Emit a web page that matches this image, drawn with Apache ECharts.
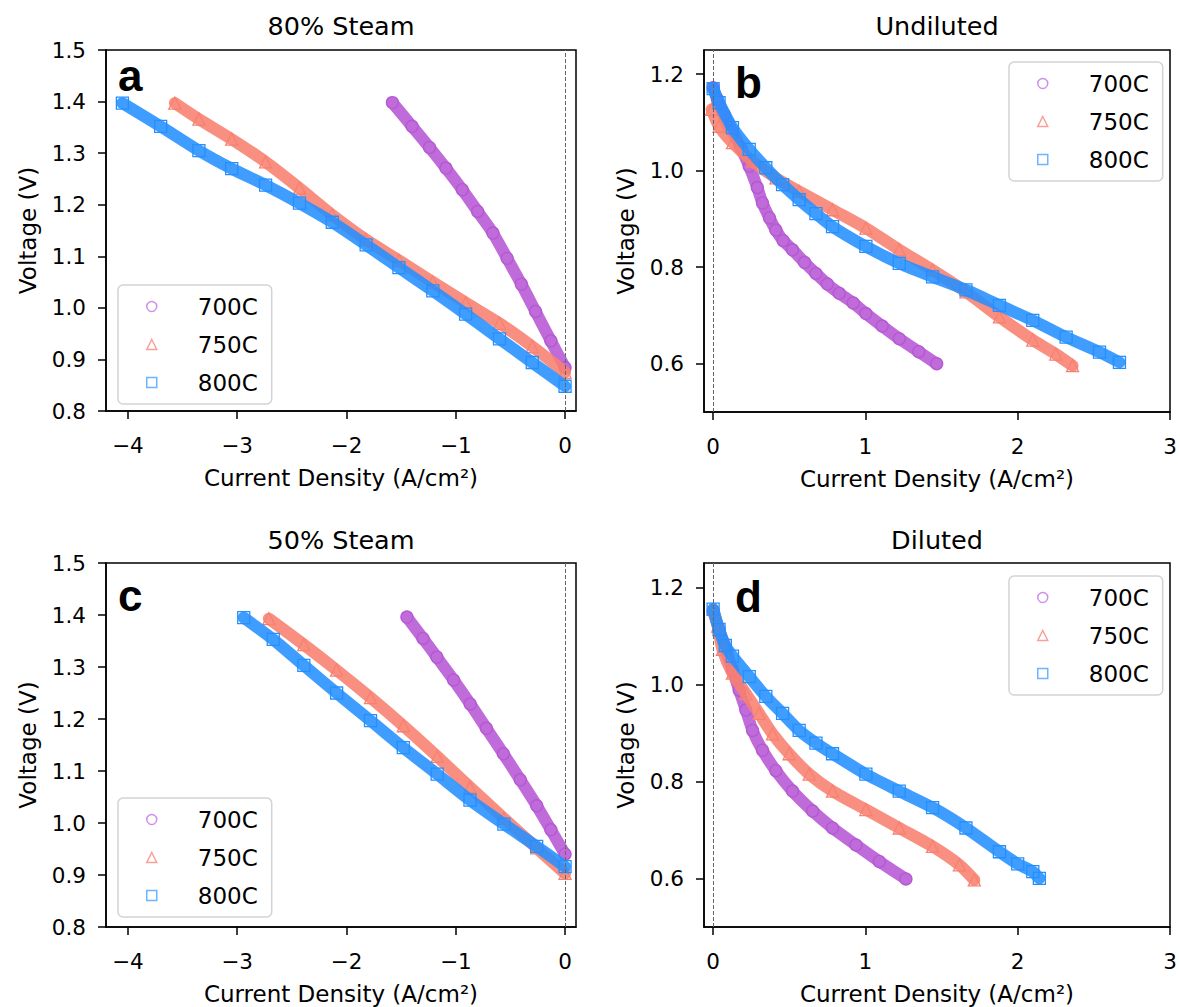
<!DOCTYPE html>
<html>
<head>
<meta charset="utf-8">
<title>Current density vs voltage</title>
<script src="https://cdn.jsdelivr.net/npm/echarts@6/dist/echarts.min.js"></script>
<style>
  html, body { margin: 0; padding: 0; background: #fff; }
  #chart { width: 1180px; height: 1007px; }
</style>
</head>
<body>
<div id="chart"></div>
<script>
// values: current density (A/cm2) and voltage (V)
const temps = ['700C', '750C', '800C'];
const titles = ['80% Steam', 'Undiluted', '50% Steam', 'Diluted'];
const letters = ['a', 'b', 'c', 'd'];

// a: 80% steam
const a700x = [-1.58, -1.40, -1.24, -1.09, -0.94, -0.80, -0.66, -0.53, -0.40, -0.27, -0.13, 0.0];
const a700v = [1.398, 1.352, 1.311, 1.271, 1.229, 1.187, 1.145, 1.096, 1.046, 0.993, 0.936, 0.884];
const a750x = [-3.57, -3.35, -3.05, -2.74, -2.43, -2.13, -1.82, -1.52, -1.21, -0.91, -0.60, -0.30, 0.0];
const a750v = [1.397, 1.366, 1.327, 1.283, 1.232, 1.180, 1.132, 1.092, 1.050, 1.010, 0.970, 0.925, 0.875];
const a800x = [-4.05, -3.70, -3.35, -3.05, -2.74, -2.43, -2.13, -1.82, -1.52, -1.21, -0.91, -0.60, -0.30, 0.0];
const a800v = [1.397, 1.352, 1.305, 1.270, 1.238, 1.203, 1.166, 1.122, 1.078, 1.033, 0.988, 0.940, 0.894, 0.848];

// b: undiluted
const b700x = [0.0, 0.028, 0.072, 0.127, 0.182, 0.237, 0.29, 0.324, 0.37, 0.412, 0.46, 0.521, 0.60, 0.675, 0.75, 0.828, 0.92, 1.003, 1.11, 1.222, 1.35, 1.468];
const b700v = [1.172, 1.148, 1.117, 1.082, 1.047, 1.009, 0.965, 0.933, 0.902, 0.877, 0.855, 0.836, 0.810, 0.787, 0.765, 0.746, 0.726, 0.704, 0.678, 0.652, 0.625, 0.600];
const b750x = [-0.01, 0.039, 0.127, 0.258, 0.412, 0.565, 0.784, 1.003, 1.222, 1.441, 1.66, 1.88, 2.099, 2.25, 2.36];
const b750v = [1.127, 1.092, 1.058, 1.020, 0.985, 0.957, 0.919, 0.881, 0.836, 0.794, 0.749, 0.697, 0.649, 0.620, 0.596];
const b800x = [0.0, 0.039, 0.127, 0.237, 0.346, 0.456, 0.565, 0.675, 0.784, 1.003, 1.222, 1.441, 1.66, 1.88, 2.099, 2.318, 2.537, 2.668];
const b800v = [1.170, 1.141, 1.089, 1.044, 1.006, 0.971, 0.940, 0.911, 0.884, 0.843, 0.808, 0.780, 0.753, 0.721, 0.690, 0.655, 0.624, 0.603];

// c: 50% steam
const c700x = [-1.447, -1.30, -1.173, -1.02, -0.868, -0.72, -0.564, -0.41, -0.259, -0.13, 0.0];
const c700v = [1.396, 1.355, 1.319, 1.275, 1.229, 1.182, 1.133, 1.083, 1.033, 0.987, 0.940];
const c750x = [-2.71, -2.39, -2.09, -1.78, -1.48, -1.17, -0.87, -0.56, -0.26, 0.0];
const c750v = [1.393, 1.343, 1.294, 1.241, 1.187, 1.128, 1.069, 1.009, 0.952, 0.903];
const c800x = [-2.94, -2.67, -2.39, -2.09, -1.78, -1.48, -1.17, -0.87, -0.56, -0.26, 0.0];
const c800v = [1.395, 1.353, 1.303, 1.250, 1.197, 1.145, 1.094, 1.044, 0.998, 0.955, 0.916];

// d: diluted
const d700x = [0.0, 0.039, 0.083, 0.127, 0.171, 0.215, 0.259, 0.324, 0.412, 0.521, 0.653, 0.784, 0.938, 1.091, 1.266];
const d700v = [1.151, 1.113, 1.072, 1.030, 0.988, 0.947, 0.905, 0.864, 0.822, 0.780, 0.739, 0.704, 0.669, 0.635, 0.599];
const d750x = [0.0, 0.03, 0.061, 0.127, 0.215, 0.302, 0.39, 0.499, 0.631, 0.784, 1.003, 1.222, 1.441, 1.617, 1.715];
const d750v = [1.155, 1.120, 1.072, 1.023, 0.981, 0.940, 0.898, 0.857, 0.815, 0.780, 0.742, 0.704, 0.666, 0.628, 0.597];
const d800x = [0.0, 0.039, 0.08, 0.127, 0.237, 0.346, 0.456, 0.565, 0.675, 0.784, 1.003, 1.222, 1.441, 1.66, 1.88, 2.0, 2.099, 2.142];
const d800v = [1.155, 1.113, 1.080, 1.058, 1.016, 0.975, 0.940, 0.905, 0.879, 0.857, 0.815, 0.780, 0.746, 0.704, 0.655, 0.630, 0.614, 0.600];

// tick labels
const steamXTicks = [-4, -3, -2, -1, 0];
const steamYTicks = [0.8, 0.9, 1.0, 1.1, 1.2, 1.3, 1.4, 1.5];
const fuelXTicks = [0, 1, 2, 3];
const fuelYTicks = [0.6, 0.8, 1.0, 1.2];

const panels = [
  [[a700x, a700v], [a750x, a750v], [a800x, a800v]],
  [[b700x, b700v], [b750x, b750v], [b800x, b800v]],
  [[c700x, c700v], [c750x, c750v], [c800x, c800v]],
  [[d700x, d700v], [d750x, d750v], [d800x, d800v]]
];

const colors = ['#b657d4', '#f8806f', '#2490ff'];
const legendColors = ['#cf90e8', '#f9a198', '#6cb4ff'];
const symbols = ['circle', 'triangle', 'rect'];
const FONT = 'DejaVu Sans';

const grids = [
  { left: 106, top: 50, width: 470, height: 361 },
  { left: 704, top: 50, width: 466, height: 362 },
  { left: 106, top: 563, width: 470, height: 364 },
  { left: 704, top: 563, width: 466, height: 364 }
];
const legendPos = [
  { left: 118, top: 285 },
  { left: 1009, top: 62 },
  { left: 118, top: 798 },
  { left: 1009, top: 576 }
];

const isSteam = i => i === 0 || i === 2;
const fmtNum = v => (v < 0 ? '\u2212' + Math.abs(v) : String(v));

const chart = echarts.init(document.getElementById('chart'), null, { renderer: 'svg' });

const axisLine = { show: true, onZero: false, lineStyle: { color: '#000', width: 1.5 } };
const axisTick = vals => ({ show: true, length: 8, customValues: vals, lineStyle: { color: '#000', width: 1.5 } });

const xAxes = grids.map((g, i) => ({
  type: 'value',
  gridIndex: i,
  min: isSteam(i) ? -4.2 : -0.06,
  max: isSteam(i) ? 0.1 : 3,
  name: 'Current Density (A/cm\u00b2)',
  nameLocation: 'middle',
  nameGap: 55,
  nameTextStyle: { fontSize: 23, color: '#000', fontFamily: FONT },
  axisLine: axisLine,
  axisTick: axisTick(isSteam(i) ? steamXTicks : fuelXTicks),
  axisLabel: {
    customValues: isSteam(i) ? steamXTicks : fuelXTicks,
    formatter: fmtNum, fontSize: 21.5, color: '#000', fontFamily: FONT, margin: 23
  },
  splitLine: { show: false }
}));

const yAxes = grids.map((g, i) => ({
  type: 'value',
  gridIndex: i,
  min: isSteam(i) ? 0.8 : 0.5,
  max: isSteam(i) ? 1.5 : 1.25,
  name: 'Voltage (V)',
  nameLocation: 'middle',
  nameGap: 67,
  nameTextStyle: { fontSize: 23, color: '#000', fontFamily: FONT },
  axisLine: axisLine,
  axisTick: axisTick(isSteam(i) ? steamYTicks : fuelYTicks),
  axisLabel: {
    customValues: isSteam(i) ? steamYTicks : fuelYTicks,
    formatter: v => v.toFixed(1), fontSize: 21.5, color: '#000', fontFamily: FONT, margin: 20
  },
  splitLine: { show: false }
}));

const series = [];
panels.forEach((panel, p) => {
  panel.forEach(([xs, vs], k) => {
    const s = {
      type: 'line',
      name: temps[k],
      xAxisIndex: p,
      yAxisIndex: p,
      data: xs.map((x, j) => [x, vs[j]]),
      smooth: 0.25,
      symbol: symbols[k],
      symbolSize: 12,
      itemStyle: { color: 'rgba(255,255,255,0)', borderColor: colors[k], borderWidth: 1.3 },
      lineStyle: { color: colors[k], width: 12, opacity: 0.88, cap: 'round', join: 'round' },
      emphasis: { disabled: true },
      silent: true,
      z: 2 + k
    };
    if (k === 2) {
      // dashed reference line at zero current
      s.markLine = {
        silent: true,
        symbol: ['none', 'none'],
        label: { show: false },
        lineStyle: { color: '#666', width: 1, type: [4, 2] },
        data: [{ xAxis: 0 }]
      };
    }
    series.push(s);
  });
});

const legends = legendPos.map(pos => ({
  left: pos.left,
  top: pos.top,
  orient: 'vertical',
  selectedMode: false,
  padding: [10, 14, 10, 28],
  itemWidth: 10,
  itemHeight: 10,
  itemGap: 15,
  backgroundColor: 'rgba(255,255,255,0.8)',
  borderColor: '#d3d3d3',
  borderWidth: 1.5,
  borderRadius: 5,
  textStyle: { fontSize: 23, lineHeight: 22, color: '#000', fontFamily: FONT, padding: [0, 0, 0, 36] },
  data: temps.map((t, k) => ({
    name: t,
    icon: symbols[k],
    itemStyle: { color: 'rgba(255,255,255,0)', borderColor: legendColors[k], borderWidth: 1.5 }
  }))
}));

const titleCenters = [[341, 26], [937, 26], [341, 540], [937, 540]];
const letterPos = [[118, 75], [735, 82], [118, 595], [735, 596]];
const graphic = [];
titles.forEach((t, i) => {
  graphic.push({
    type: 'text', x: titleCenters[i][0], y: titleCenters[i][1], silent: true,
    style: { text: t, fontSize: 25.5, fontFamily: FONT, fill: '#000', align: 'center', verticalAlign: 'middle' }
  });
});
letters.forEach((t, i) => {
  graphic.push({
    type: 'text', x: letterPos[i][0], y: letterPos[i][1], silent: true,
    style: { text: t, fontSize: 44, fontWeight: 'bold', fontFamily: 'Liberation Sans', fill: '#000', align: 'left', verticalAlign: 'middle' }
  });
});

chart.setOption({
  animation: false,
  backgroundColor: '#fff',
  textStyle: { fontFamily: FONT },
  grid: grids.map(g => Object.assign({ show: true, borderColor: '#000', borderWidth: 1.5, outerBoundsMode: 'none' }, g)),
  xAxis: xAxes,
  yAxis: yAxes,
  legend: legends,
  series: series,
  graphic: graphic
});
</script>
</body>
</html>
